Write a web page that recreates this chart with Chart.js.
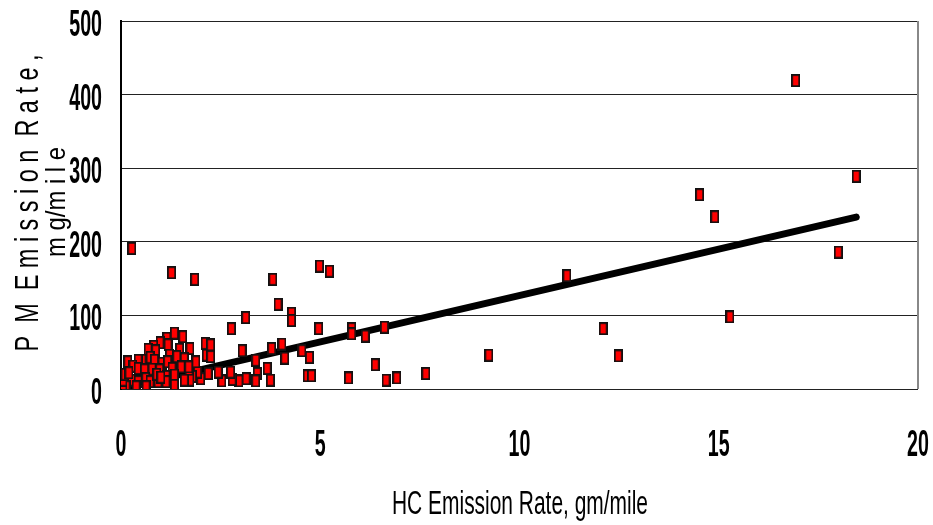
<!DOCTYPE html>
<html>
<head>
<meta charset="utf-8">
<script src="https://cdn.jsdelivr.net/npm/chart.js@4.4.1/dist/chart.umd.min.js"></script>
<style>
  html, body { margin: 0; padding: 0; background: #fff; }
  #wrap { width: 933px; height: 525px; position: relative; }
</style>
</head>
<body>
<div id="wrap"><canvas id="myChart" width="933" height="525"></canvas></div>
<script>
// HC vs PM emission rates, each point
const hcRate = [
  0.27, 1.27, 1.85, 3.81, 4.98, 5.23, 3.94, 4.28, 4.28, 3.13, 2.77, 4.96, 5.79, 5.79, 6.13, 6.61,
  11.19, 12.1, 12.48, 9.23, 7.65, 6.92, 6.65, 6.38, 5.71, 4.67, 4.78, 4.73, 4.54, 4.11, 4.04, 3.78,
  3.67, 3.75, 3.42, 3.38, 3.04, 3.14, 3.38, 2.96, 2.79, 2.75, 2.53, 2.44, 2.19, 2.0, 1.92, 1.79,
  1.71, 1.73, 1.88, 2.14, 2.25, 2.11, 2.25, 1.73,
  1.34, 1.55, 1.15, 0.98, 1.18, 0.82, 1.47, 0.68, 0.87, 0.53, 0.43, 0.17, 0.73, 0.84, 1.03, 1.22,
  1.17, 1.4, 1.59, 0.3, 0.43, 0.59, 0.78, 0.97, 1.28, 1.51, 1.7, 1.34, 1.13, 0.13, 0.26, 0.43,
  0.62, 0.73, 0.93, 1.13, 1.34, 1.59, 0.13, 0.05, 0.63, 0.38, 0.05, 0.1, 0.2, 0.9, 1.0,
  16.93, 18.45, 14.52, 14.9, 18.0, 15.28
];
const pmRate = [
  191, 158, 149, 149, 167, 160, 115, 103, 93, 97, 82, 82, 82, 75, 72, 84,
  154, 82, 45, 46, 21, 15, 12, 33, 15, 18, 18, 43, 52, 42, 61, 55,
  28, 12, 21, 39, 52, 14, 11, 11, 13, 23, 11, 23, 21, 14, 23, 17,
  23, 12, 37, 46, 44, 62, 60, 55,
  76, 71, 69, 63, 60, 58, 54, 54, 52, 39, 39, 37, 43, 39, 35, 46,
  37, 44, 41, 31, 28, 26, 27, 26, 28, 30, 30, 19, 17, 10, 12, 10,
  14, 10, 10, 10, 5, 12, 3, 5, 3, 3, 12, 20, 22, 20, 16,
  419, 289, 264, 234, 186, 98
];

// fitted trend line ends
const trendX = [0.1, 18.45];
const trendY = [2.3, 233.5];

const xTicks = [0, 5, 10, 15, 20];
const yTicks = [0, 100, 200, 300, 400, 500];

const xTitle = 'HC Emission Rate, gm/mile';
const yTitle1 = 'P  M  E m i s s i o n  R a t e ,';
const yTitle2 = 'm g/m i l e';

// red rectangle marker
const mk = document.createElement('canvas');
mk.width = 9; mk.height = 13;
const mctx = mk.getContext('2d');
mctx.fillStyle = '#ff0000';
mctx.fillRect(1, 1, 7, 11);
mctx.strokeStyle = '#111';
mctx.lineWidth = 1.8;
mctx.strokeRect(0.9, 0.9, 7.2, 11.2);

const fam = '"Liberation Sans", Arial, sans-serif';

function fitText(ctx, text, x, y, len, font, rot) {
  ctx.save();
  ctx.font = font;
  const w = ctx.measureText(text).width;
  ctx.translate(x, y);
  if (rot) ctx.rotate(-Math.PI / 2);
  ctx.scale(len / w, 1);
  ctx.textAlign = 'center';
  ctx.textBaseline = 'alphabetic';
  ctx.fillStyle = '#000';
  ctx.fillText(text, 0, 0);
  ctx.restore();
}

// condensed tick label, squeezed sideways like the original
function tickText(ctx, text, x, y, align) {
  ctx.save();
  ctx.font = 'bold 37px ' + fam;
  ctx.translate(x, y);
  ctx.scale(0.53, 1);
  ctx.textAlign = align;
  ctx.textBaseline = 'alphabetic';
  ctx.fillStyle = '#000';
  ctx.fillText(text, 0, 0);
  ctx.restore();
}

const titles = {
  id: 'titles',
  beforeDatasetsDraw(chart) {
    const ctx = chart.ctx, a = chart.chartArea;
    ctx.save();
    ctx.strokeStyle = '#888';
    ctx.lineWidth = 2;
    ctx.beginPath();
    ctx.moveTo(a.right, a.top);
    ctx.lineTo(a.right, a.bottom);
    ctx.stroke();
    ctx.restore();
  },
  afterDraw(chart) {
    const ctx = chart.ctx;
    const xs = chart.scales.x, ys = chart.scales.y;
    xs.ticks.forEach(t => tickText(ctx, String(t.value), xs.getPixelForValue(t.value), 456, 'center'));
    ys.ticks.forEach(t => tickText(ctx, String(t.value), 102, ys.getPixelForValue(t.value) + 15, 'right'));
    fitText(ctx, xTitle, 520, 514, 256, '33px ' + fam, false);
    fitText(ctx, yTitle1, 38, 203, 297, '34px ' + fam, true);
    fitText(ctx, yTitle2, 65, 202, 110, '28px ' + fam, true);
  }
};

const points = hcRate.map((v, i) => ({ x: v, y: pmRate[i] }));
const trend = trendX.map((v, i) => ({ x: v, y: trendY[i] }));

const ctx = document.getElementById('myChart');

new Chart(ctx, {
  type: 'scatter',
  data: {
    datasets: [{
      label: 'PM',
      data: points,
      pointStyle: mk,
      order: 1
    }, {
      type: 'line',
      label: 'trend',
      data: trend,
      borderColor: '#000',
      borderWidth: 7,
      borderCapStyle: 'round',
      pointRadius: 0,
      fill: false,
      order: 2
    }]
  },
  options: {
    responsive: false,
    animation: false,
    layout: { padding: { left: 0, right: 15, top: 21, bottom: 0 } },
    plugins: { legend: { display: false }, tooltip: { enabled: false } },
    scales: {
      x: {
        type: 'linear',
        min: 0, max: 20,
        afterBuildTicks: s => { s.ticks = xTicks.map(v => ({ value: v })); },
        afterFit: s => { s.height = 136; s.paddingLeft = 0; s.paddingRight = 0; },
        grid: { display: false },
        border: { display: false },
        ticks: { display: false }
      },
      y: {
        type: 'linear',
        min: 0, max: 500,
        afterBuildTicks: s => { s.ticks = yTicks.map(v => ({ value: v })); },
        afterFit: s => { s.width = 121; s.paddingTop = 0; s.paddingBottom = 0; },
        grid: { color: '#222', lineWidth: 1, drawTicks: false },
        border: { color: '#000', width: 2 },
        ticks: { display: false }
      }
    }
  },
  plugins: [titles]
});
</script>
</body>
</html>
